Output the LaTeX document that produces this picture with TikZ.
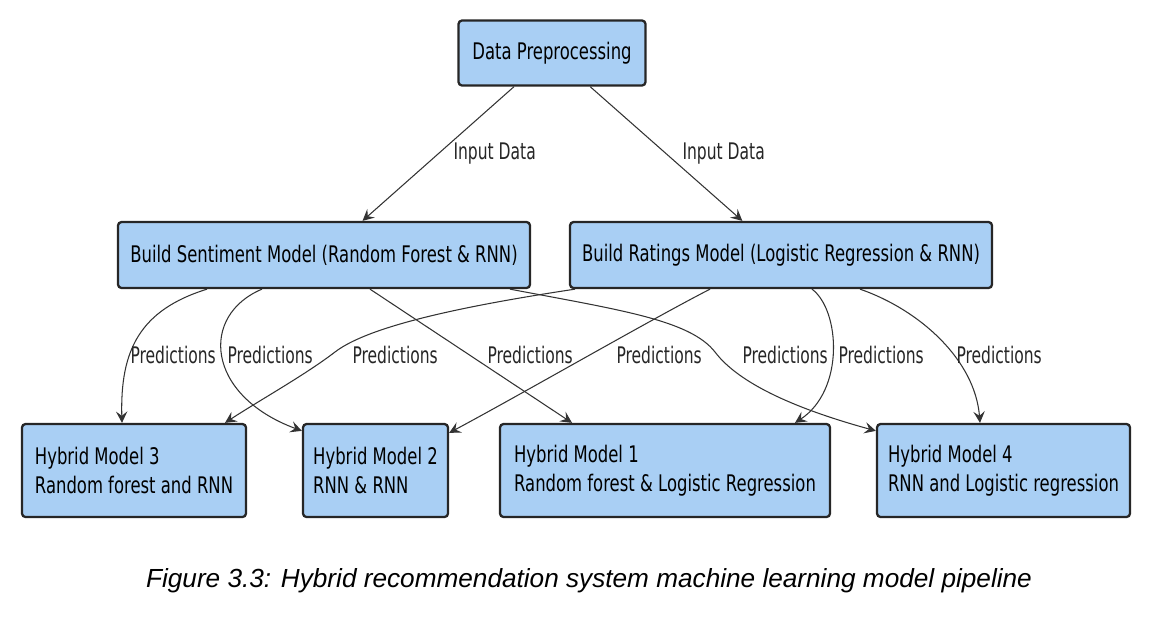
\documentclass[tikz,border=0pt]{standalone}
\usepackage{fontspec}
\usepackage{xcolor}
\usepackage{tikz}
\usetikzlibrary{shapes.geometric,arrows,arrows.meta}
\newfontfamily\diagfont[FakeStretch=0.72]{DejaVu Sans}
\newfontfamily\lblfont[FakeStretch=0.68]{DejaVu Sans}
\newfontfamily\capfont{Liberation Sans}
\definecolor{boxblue}{RGB}{169,207,244}
\definecolor{edgegray}{RGB}{51,51,51}
\tikzstyle{model}=[rectangle,rounded corners=2pt,minimum height=1.32cm,text centered,draw=black!85,line width=1.3pt,fill=boxblue,font=\diagfont\fontsize{13}{16.5}\selectfont]
\tikzstyle{hybrid}=[model,minimum height=1.86cm,align=left]
\tikzstyle{arrow}=[edgegray,line width=0.6pt,-{Stealth[length=6.5pt,width=6.5pt,inset=2.5pt]}]
\tikzstyle{lbl}=[anchor=west,inner sep=0pt,text=black!85,font=\lblfont\fontsize{13}{16}\selectfont]

\begin{document}
\begin{tikzpicture}[node distance=4.04cm]
            \useasboundingbox (0,0) rectangle (23.16,-12.32);
            \node (dp)[model,minimum width=3.74cm,minimum height=1.30cm] at (11.04,-1.06){Data Preprocessing};
            \node (sent)[model,minimum width=8.24cm,below of=dp,xshift=-4.56cm]{Build Sentiment Model (Random Forest \& RNN)};
            \node (rate)[model,minimum width=8.44cm,below of=dp,xshift=4.58cm]{Build Ratings Model (Logistic Regression \& RNN)};
            \node (hm3)[hybrid,minimum width=4.48cm,below of=sent,yshift=-0.27cm,xshift=-3.80cm]{Hybrid Model 3\\Random forest and RNN};
            \node (hm2)[hybrid,minimum width=2.90cm,below of=sent,yshift=-0.27cm,xshift=1.03cm]{Hybrid Model 2\\RNN \& RNN};
            \node (hm1)[hybrid,minimum width=6.60cm,below of=rate,yshift=-0.27cm,xshift=-2.32cm]{Hybrid Model 1\\Random forest \& Logistic Regression};
            \node (hm4)[hybrid,minimum width=5.06cm,below of=rate,yshift=-0.27cm,xshift=4.45cm]{Hybrid Model 4\\RNN and Logistic regression};
            \node (caption) at (11.78,-11.62){\capfont\itshape\fontsize{14.9}{17}\selectfont Figure 3.3: Hybrid recommendation system machine learning model pipeline};
            \draw [arrow] (dp) -- (sent) node[lbl] at (9.06,-3.08){Input Data};
            \draw [arrow] (dp) -- (rate) node[lbl] at (13.64,-3.08){Input Data};
            \draw [arrow] ([xshift=-2.34cm]sent.south) .. controls (2.80,-6.20) and (2.40,-7.00) .. ([xshift=-0.24cm]hm3.north) node[lbl] at (2.60,-7.10){Predictions};
            \draw [arrow] ([xshift=-1.24cm]sent.south) .. controls (4.00,-6.30) and (4.10,-7.90) .. ([yshift=-0.16cm]hm2.north west) node[lbl] at (4.54,-7.10){Predictions};
            \draw [arrow] ([xshift=0.92cm]sent.south) -- ([xshift=-1.86cm]hm1.north) node[lbl] at (9.74,-7.10){Predictions};
            \draw [arrow] ([xshift=3.72cm]sent.south) .. controls (12.40,-6.20) and (13.80,-6.40) .. (14.30,-7.04) .. controls (14.80,-7.70) and (16.00,-8.20) .. ([yshift=-0.16cm]hm4.north west) node[lbl] at (14.84,-7.10){Predictions};
            \draw [arrow] ([xshift=-4.12cm]rate.south) .. controls (9.40,-6.10) and (7.40,-6.50) .. (6.70,-7.04) .. controls (6.10,-7.50) and (5.20,-8.00) .. ([xshift=1.82cm]hm3.north) node[lbl] at (7.04,-7.10){Predictions};
            \draw [arrow] ([xshift=-1.42cm]rate.south) .. controls (13.00,-6.40) and (10.40,-7.90) .. ([yshift=-0.20cm]hm2.north east) node[lbl] at (12.32,-7.10){Predictions};
            \draw [arrow] ([xshift=0.62cm]rate.south) .. controls (16.80,-6.20) and (16.90,-7.80) .. ([xshift=2.60cm]hm1.north) node[lbl] at (16.76,-7.10){Predictions};
            \draw [arrow] ([xshift=1.58cm]rate.south) .. controls (18.40,-6.20) and (19.50,-7.20) .. ([xshift=-0.47cm]hm4.north) node[lbl] at (19.12,-7.10){Predictions};
        \end{tikzpicture}
\end{document}
